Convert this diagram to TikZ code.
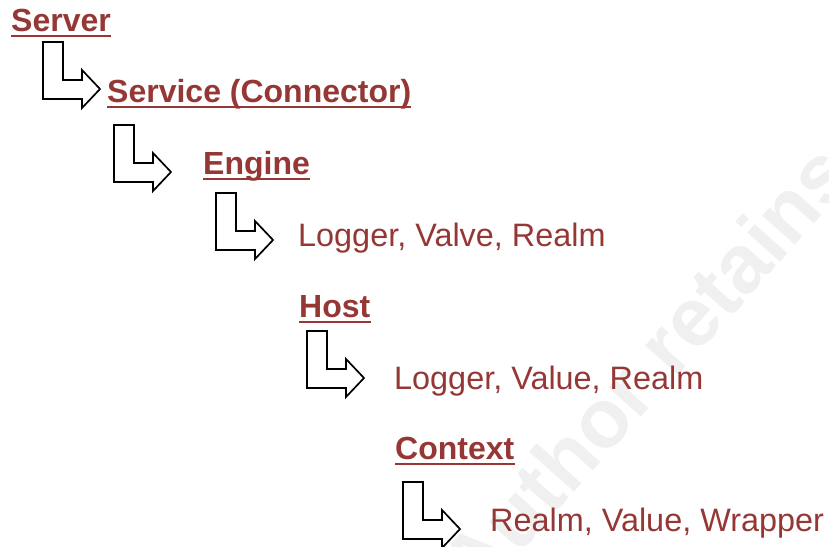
\documentclass[tikz,border=0pt]{standalone}
\usepackage{fontspec}
\setmainfont{Liberation Sans}
\definecolor{txtred}{RGB}{149,55,53}
\definecolor{wmark}{RGB}{240,240,240}
\begin{document}
\begin{tikzpicture}[x=1pt,y=-1pt,
  head/.style={anchor=base west,inner sep=0pt,text=txtred,font=\fontsize{32}{38}\selectfont\bfseries},
  item/.style={anchor=base west,inner sep=0pt,text=txtred,font=\fontsize{32.4}{38}\selectfont},
  uline/.style={draw=txtred,line width=1.8pt},
  larrow/.pic={\draw[black,fill=white,line width=1.7pt,line join=miter]
     (0,0)--(20,0)--(20,38)--(39,38)--(39,28)--(57,47)--(39,66)--(39,57)--(0,57)--cycle;}]
\useasboundingbox (0,0) rectangle (829,546);
% faint watermark
\begin{scope}
\clip (0,0) rectangle (829,546);
\node[anchor=base west,inner sep=0pt,rotate=48.2,text=wmark,font=\fontsize{83}{90}\selectfont\bfseries] (wm) at (478,600) {Author retains full rights};
\end{scope}
% headings and items
\node[head] (server) at (11,31) {Server};
\node[head] (service) at (107,102) {Service (Connector)};
\node[head] (engine) at (203,174) {Engine};
\node[item] (eitems) at (298,246) {Logger, Valve, Realm};
\node[head] (host) at (299,317) {Host};
\node[item] (hitems) at (394,389) {Logger, Value, Realm};
\node[head] (context) at (395,459) {Context};
\node[item] (citems) at (490,531) {Realm, Value, Wrapper};
% underlines
\foreach \n in {server,service,engine,host,context}
  \draw[uline] ([yshift=-5pt]\n.base west) -- ([yshift=-5pt]\n.base east);
% L-shaped arrows
\pic at (43,42) {larrow};
\pic at (114,125) {larrow};
\pic at (216,193) {larrow};
\pic at (307,331) {larrow};
\pic at (403,482) {larrow};
\end{tikzpicture}
\end{document}
